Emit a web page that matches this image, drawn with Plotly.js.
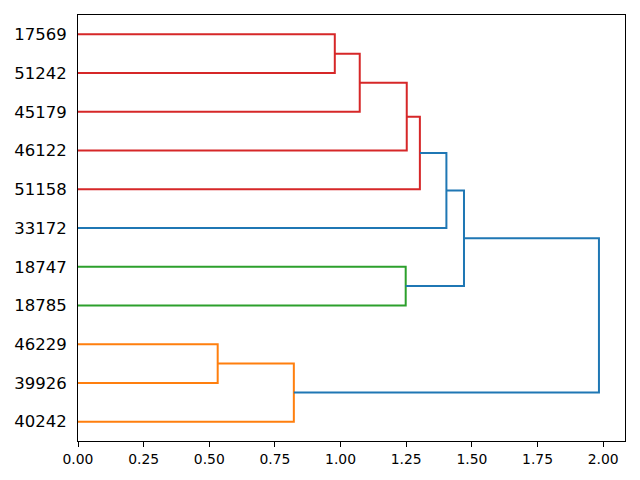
<!DOCTYPE html>
<html>
<head>
<meta charset="utf-8">
<script src="https://cdn.plot.ly/plotly-3.0.1.min.js"></script>
<style>html,body{margin:0;padding:0;background:#fff;}#chart{width:640px;height:480px;}</style>
</head>
<body>
<div id="chart"></div>
<script>
// Leaves, bottom to top
const leaves = ["40242", "39926", "46229", "18785", "18747", "33172", "51158", "46122", "45179", "51242", "17569"];
// Merges: children (leaf label or "m<index>"), merge height, link colour key
const mergeA = ["46229", "17569", "m0", "m1", "18747", "m3", "m5", "m6", "m7", "m8"];
const mergeB = ["39926", "51242", "40242", "45179", "18785", "46122", "51158", "33172", "m4", "m2"];
const mergeHeight = [0.532, 0.978, 0.822, 1.073, 1.248, 1.252, 1.302, 1.403, 1.470, 1.984];
const mergeColor = ["C1", "C3", "C1", "C3", "C2", "C3", "C3", "C0", "C0", "C0"];

const palette = {C0: "#1f77b4", C1: "#ff7f0e", C2: "#2ca02c", C3: "#d62728"};

const nodePos = {};
leaves.forEach((name, i) => { nodePos[name] = {y: 5 + 10 * i, x: 0}; });

const traces = [];
mergeA.forEach((a, i) => {
  const b = mergeB[i];
  const pa = nodePos[a], pb = nodePos[b];
  const h = mergeHeight[i];
  traces.push({
    type: "scatter", mode: "lines",
    x: [pa.x, h, h, pb.x],
    y: [pa.y, pa.y, pb.y, pb.y],
    line: {color: palette[mergeColor[i]], width: 2},
    hoverinfo: "skip", showlegend: false
  });
  nodePos["m" + i] = {y: (pa.y + pb.y) / 2, x: h};
});

const xmax = Math.max(...mergeHeight) * 1.05;
const xticks = [0, 0.25, 0.5, 0.75, 1.0, 1.25, 1.5, 1.75, 2.0];

const layout = {
  width: 640, height: 480,
  margin: {l: 78, r: 15, t: 15, b: 39, pad: 0},
  paper_bgcolor: "#fff", plot_bgcolor: "#fff",
  font: {family: "DejaVu Sans", color: "#000"},
  xaxis: {
    range: [0, xmax], tickvals: xticks,
    ticktext: xticks.map(v => v.toFixed(2)),
    ticks: "outside", ticklen: 5, tickwidth: 1, tickcolor: "#000",
    tickfont: {size: 13.9, family: "DejaVu Sans", color: "#000"},
    showgrid: false, zeroline: false,
    showline: true, linecolor: "#000", linewidth: 1, mirror: true
  },
  yaxis: {
    range: [0, 10 * leaves.length],
    tickvals: leaves.map((_, i) => 5 + 10 * i), ticktext: leaves,
    ticks: "", ticklabelstandoff: 7,
    tickfont: {size: 16.5, family: "DejaVu Sans", color: "#000"},
    showgrid: false, zeroline: false,
    showline: true, linecolor: "#000", linewidth: 1, mirror: true
  }
};

Plotly.newPlot("chart", traces, layout, {displayModeBar: false, staticPlot: true});
</script>
</body>
</html>
